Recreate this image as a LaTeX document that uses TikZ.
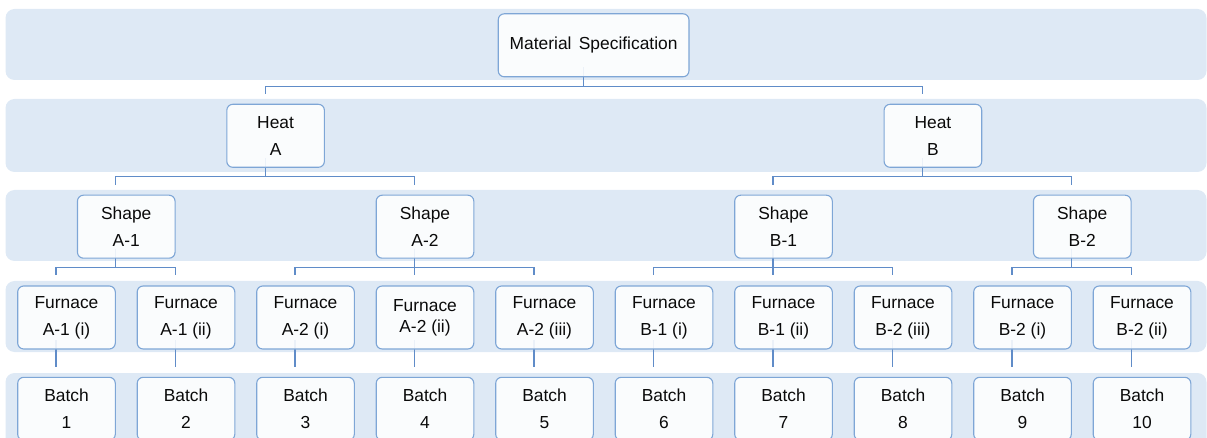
\documentclass[tikz,border=0pt]{standalone}
\usepackage{fontspec}
\setmainfont{Liberation Sans}
\usetikzlibrary{calc}
\definecolor{bandc}{RGB}{222,233,245}
\definecolor{boxline}{RGB}{126,166,214}
\definecolor{conn}{RGB}{96,140,200}
\definecolor{txt}{RGB}{10,10,10}
\pgfdeclarelayer{bands}
\pgfdeclarelayer{lines}
\pgfsetlayers{bands,lines,main}
\begin{document}
\begin{tikzpicture}[x=1pt,y=-1pt,
  band/.style={fill=bandc,rounded corners=9pt},
  box/.style={draw=boxline,line width=1.1pt,fill=white,fill opacity=0.88,text opacity=1,
    rounded corners=6pt,minimum width=97.6pt,minimum height=63pt,inner sep=0pt,
    align=center,text=txt,font=\fontsize{17.4}{26.7}\selectfont},
  conline/.style={draw=conn,line width=1.2pt}]
\useasboundingbox (0,0) rectangle (1207,438);
\clip (0,0) rectangle (1207,438);
% rows
\def\ra{45.3}\def\rb{135.8}\def\rc{226.7}\def\rd{317.5}\def\re{408.8}
% level 1
\node[box,minimum width=190.7pt] (ms) at (593.6,\ra) {Material\hspace{2.5pt} Specification};
% level 2
\node[box] (ha) at (275.6,\rb) {Heat\\A};
\node[box] (hb) at (932.9,\rb) {Heat\\B};
% level 3
\node[box] (sa1) at (126.25,\rc) {Shape\\A-1};
\node[box] (sa2) at (425,\rc) {Shape\\A-2};
\node[box] (sb1) at (783.5,\rc) {Shape\\B-1};
\node[box] (sb2) at (1082.25,\rc) {Shape\\B-2};
% level 4
\node[box] (f1) at (66.5,\rd) {Furnace\\A-1 (i)};
\node[box] (f2) at (186,\rd) {Furnace\\A-1 (ii)};
\node[box] (f3) at (305.5,\rd) {Furnace\\A-2 (i)};
\node[box,font=\fontsize{17.4}{21}\selectfont] (f4) at (425,\rd) {Furnace\\A-2 (ii)};
\node[box] (f5) at (544.5,\rd) {Furnace\\A-2 (iii)};
\node[box] (f6) at (664,\rd) {Furnace\\B-1 (i)};
\node[box] (f7) at (783.5,\rd) {Furnace\\B-1 (ii)};
\node[box] (f8) at (903,\rd) {Furnace\\B-2 (iii)};
\node[box] (f9) at (1022.5,\rd) {Furnace\\B-2 (i)};
\node[box] (f10) at (1142,\rd) {Furnace\\B-2 (ii)};
% level 5
\node[box] (b1) at (66.5,\re) {Batch\\1};
\node[box] (b2) at (186,\re) {Batch\\2};
\node[box] (b3) at (305.5,\re) {Batch\\3};
\node[box] (b4) at (425,\re) {Batch\\4};
\node[box] (b5) at (544.5,\re) {Batch\\5};
\node[box] (b6) at (664,\re) {Batch\\6};
\node[box] (b7) at (783.5,\re) {Batch\\7};
\node[box] (b8) at (903,\re) {Batch\\8};
\node[box] (b9) at (1022.5,\re) {Batch\\9};
\node[box] (b10) at (1142,\re) {Batch\\10};
% connectors
\begin{pgfonlayer}{lines}
\foreach \p/\c in {ms/ha,ms/hb,ha/sa1,ha/sa2,hb/sb1,hb/sb2,
  sa1/f1,sa1/f2,sa2/f3,sa2/f4,sa2/f5,sb1/f6,sb1/f7,sb1/f8,sb2/f9,sb2/f10,
  f1/b1,f2/b2,f3/b3,f4/b4,f5/b5,f6/b6,f7/b7,f8/b8,f9/b9,f10/b10}
  \draw[conline] ($(\p.south)+(-10.5,-10)$) -- ($(\p.south)+(-10.5,9)$) -| ($(\c.north)+(-10.5,-10)$);
\end{pgfonlayer}
% bands
\begin{pgfonlayer}{bands}
\fill[band] (5.5,9) rectangle (1206.5,80);
\fill[band] (5.5,99) rectangle (1206.5,172);
\fill[band] (5.5,190) rectangle (1206.5,261);
\fill[band] (5.5,281) rectangle (1206.5,352);
\fill[band] (5.5,373) rectangle (1206.5,470);
\end{pgfonlayer}
\end{tikzpicture}
\end{document}
